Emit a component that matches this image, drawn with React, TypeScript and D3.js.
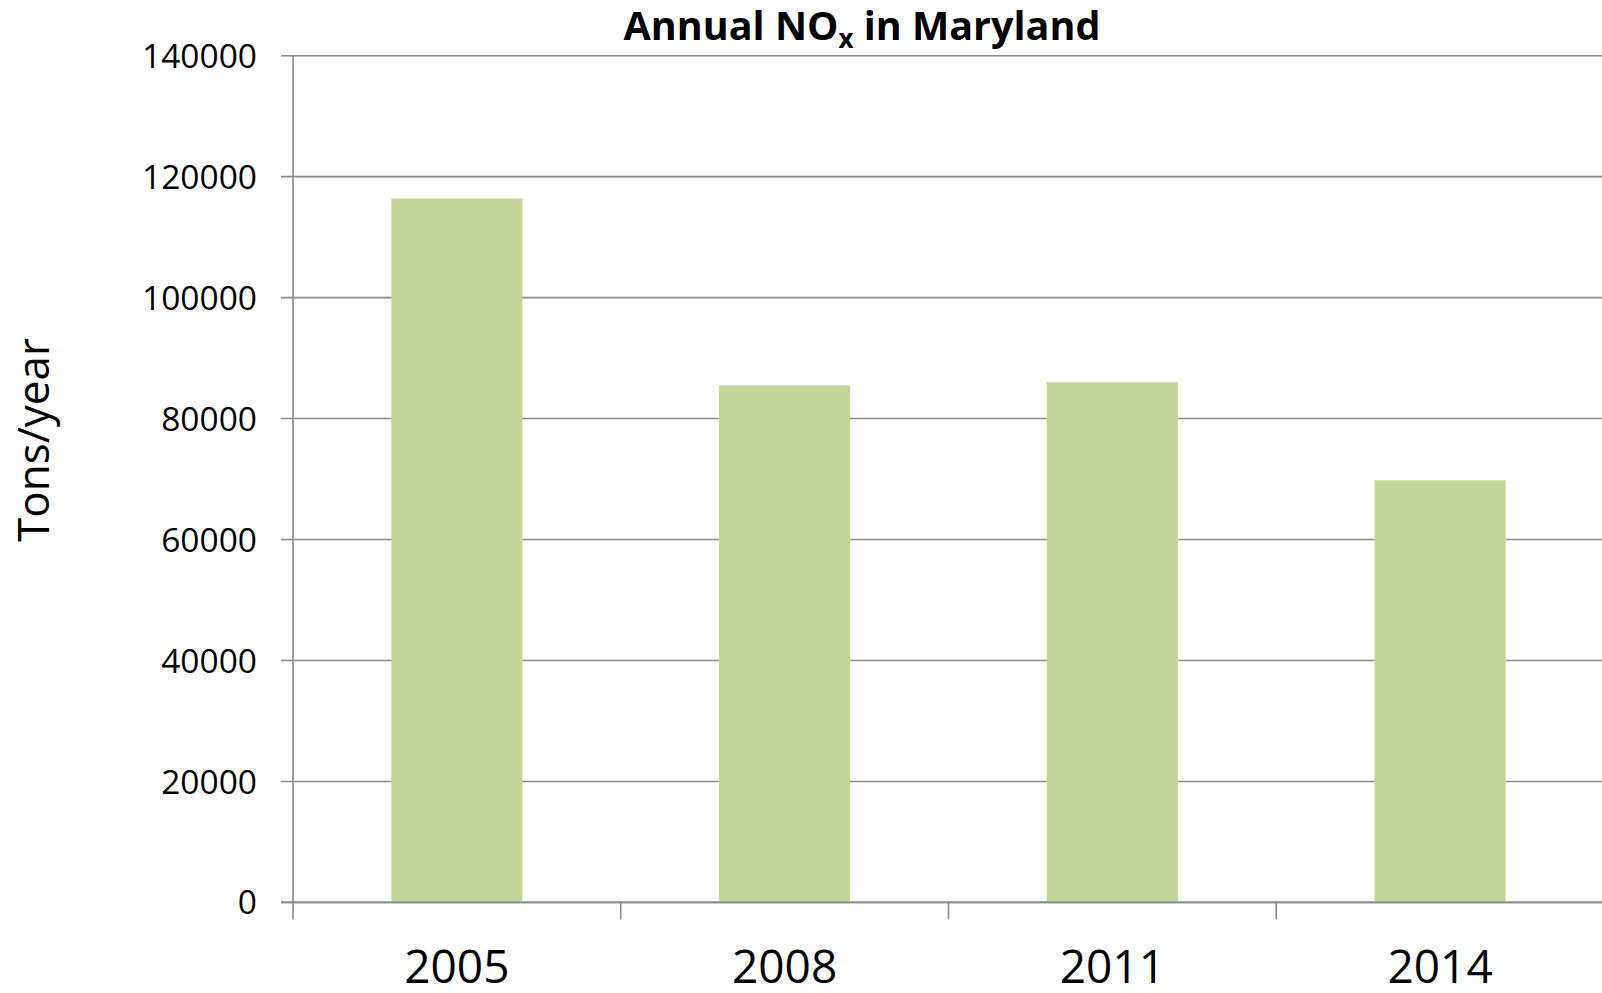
import React from "react";
import * as d3 from "d3";

const years = ["2005", "2008", "2011", "2014"];
const noxTons = [116400, 85500, 86000, 69800];
const yTicks = [0, 20000, 40000, 60000, 80000, 100000, 120000, 140000];

const width = 1602;
const height = 993;
const margin = { top: 55.7, right: -2, bottom: 90.6, left: 293 };
const font = "'Open Sans', 'Liberation Sans', sans-serif";
const gridColor = "#8a8a8a";

export default function App() {
  const x = d3
    .scaleBand<string>()
    .domain(years)
    .range([margin.left, width - margin.right])
    .paddingInner(0.6)
    .paddingOuter(0.3);

  const y = d3
    .scaleLinear()
    .domain([0, 140000])
    .range([height - margin.bottom, margin.top]);

  const step = x.step();
  const x0 = margin.left;
  const yZero = y(0);
  // category boundaries, like Excel's tick marks between categories
  const boundaries = d3.range(years.length + 1).map((i) => x0 + i * step);

  return (
    <svg
      width={width}
      height={height}
      style={{ position: "absolute", left: 0, top: 0, background: "#fff" }}
      fontFamily={font}
    >
      <text
        x={862}
        y={40}
        textAnchor="middle"
        fontWeight="bold"
        fontSize={39.5}
        fill="#000"
      >
        Annual NO
        <tspan fontSize={26} dy={8}>x</tspan>
        <tspan dy={-8}> in Maryland</tspan>
      </text>

      {yTicks.map((t) => (
        <g key={t}>
          <line
            x1={margin.left - 12}
            x2={width}
            y1={y(t)}
            y2={y(t)}
            stroke={gridColor}
            strokeWidth={1.6}
          />
          <text
            x={257}
            y={y(t)}
            dy="0.36em"
            textAnchor="end"
            fontSize={33.5}
            fill="#000"
          >
            {t}
          </text>
        </g>
      ))}

      {years.map((yr, i) => (
        <rect
          key={yr}
          x={x(yr)}
          y={y(noxTons[i])}
          width={x.bandwidth()}
          height={yZero - y(noxTons[i])}
          fill="#c4d79b"
        />
      ))}

      <line
        x1={margin.left - 12}
        x2={width}
        y1={yZero}
        y2={yZero}
        stroke={gridColor}
        strokeWidth={1.6}
      />
      <line
        x1={x0}
        x2={x0}
        y1={margin.top}
        y2={yZero + 17}
        stroke={gridColor}
        strokeWidth={1.6}
      />
      {boundaries.slice(1).map((bx, i) => (
        <line
          key={i}
          x1={bx}
          x2={bx}
          y1={yZero}
          y2={yZero + 17}
          stroke={gridColor}
          strokeWidth={1.6}
        />
      ))}

      {years.map((yr) => (
        <text
          key={yr}
          x={(x(yr) ?? 0) + x.bandwidth() / 2}
          y={983}
          textAnchor="middle"
          fontSize={46}
          fill="#000"
        >
          {yr}
        </text>
      ))}

      <text
        transform="translate(49,440) rotate(-90)"
        textAnchor="middle"
        fontSize={44}
        fill="#000"
      >
        Tons/year
      </text>
    </svg>
  );
}
